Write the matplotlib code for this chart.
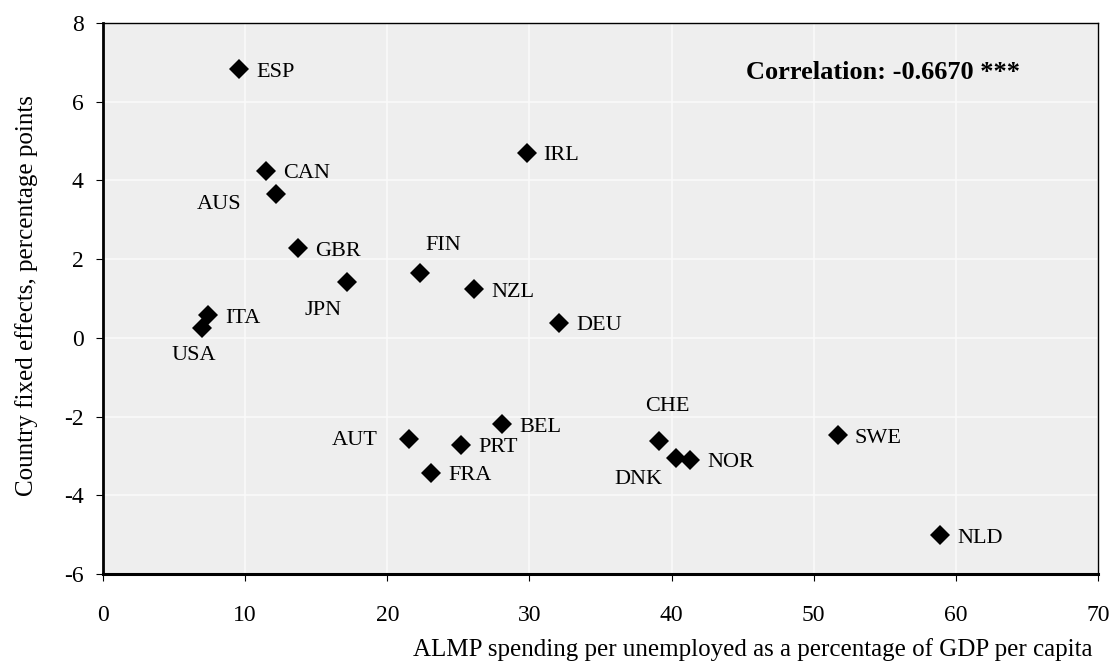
import matplotlib
matplotlib.use("Agg")
import matplotlib.pyplot as plt

plt.rcParams["font.family"] = ["Liberation Serif", "DejaVu Serif"]
plt.rcParams["axes.unicode_minus"] = False

# country codes, ALMP spending (x) and fixed effects (y)
countries = ["ESP", "CAN", "AUS", "GBR", "JPN", "FIN", "IRL", "NZL", "DEU", "ITA",
             "USA", "AUT", "PRT", "BEL", "FRA", "CHE", "DNK", "NOR", "SWE", "NLD"]
almp = [9.6, 11.5, 12.2, 13.7, 17.2, 22.3, 29.8, 26.1, 32.1, 7.4,
        7.0, 21.5, 25.2, 28.1, 23.1, 39.1, 40.3, 41.3, 51.7, 58.9]
effects = [6.83, 4.24, 3.66, 2.28, 1.42, 1.65, 4.70, 1.24, 0.38, 0.58,
           0.25, -2.57, -2.72, -2.19, -3.43, -2.62, -3.05, -3.10, -2.47, -5.01]

# label offsets in pixels (dx, dy, ha); default is to the right of the point
right = (17, -3, "left")
label_pos = {
    "AUS": (-35, -11, "right"),
    "JPN": (-6, -29, "right"),
    "USA": (-9, -27, "center"),
    "AUT": (-31, -1, "right"),
    "FIN": (23, 27, "center"),
    "CHE": (9, 34, "center"),
    "DNK": (-37, -22, "center"),
}

fig = plt.figure(figsize=(11.11, 6.65), dpi=100)
ax = fig.add_axes([0.0927, 0.1368, 0.8956, 0.8286])
ax.set_facecolor("#eeeeee")

ax.plot(almp, effects, linestyle="none", marker="D", markersize=10,
        color="black", markeredgewidth=0, zorder=3)

for c, x, y in zip(countries, almp, effects):
    dx, dy, ha = label_pos.get(c, right)
    ax.annotate(c, (x, y), xytext=(dx, dy), textcoords="offset pixels",
                ha=ha, va="center", fontsize=16)

ax.text(54.9, 6.75, "Correlation: -0.6670 ***", ha="center", va="center",
        fontsize=19, fontweight="bold")

ax.set_xlim(0, 70)
ax.set_ylim(-6, 8)
ax.set_xticks(range(0, 71, 10))
ax.set_yticks(range(-6, 9, 2))
ax.grid(True, color="#fafafa", linewidth=1.2)
ax.set_axisbelow(True)
ax.tick_params(labelsize=17, length=5, direction="out")
ax.tick_params(axis="x", pad=17)
ax.tick_params(axis="y", pad=9)

ax.spines["left"].set_linewidth(2)
ax.spines["bottom"].set_linewidth(2.2)
ax.spines["top"].set_linewidth(1)
ax.spines["right"].set_linewidth(1)

fig.text(0.0235, 0.556, "Country fixed effects, percentage points", rotation=90,
         ha="center", va="center", fontsize=18)
fig.text(0.983, 0.0226, "ALMP spending per unemployed as a percentage of GDP per capita",
         ha="right", va="center", fontsize=18)

fig.savefig("out.png", dpi=100)
